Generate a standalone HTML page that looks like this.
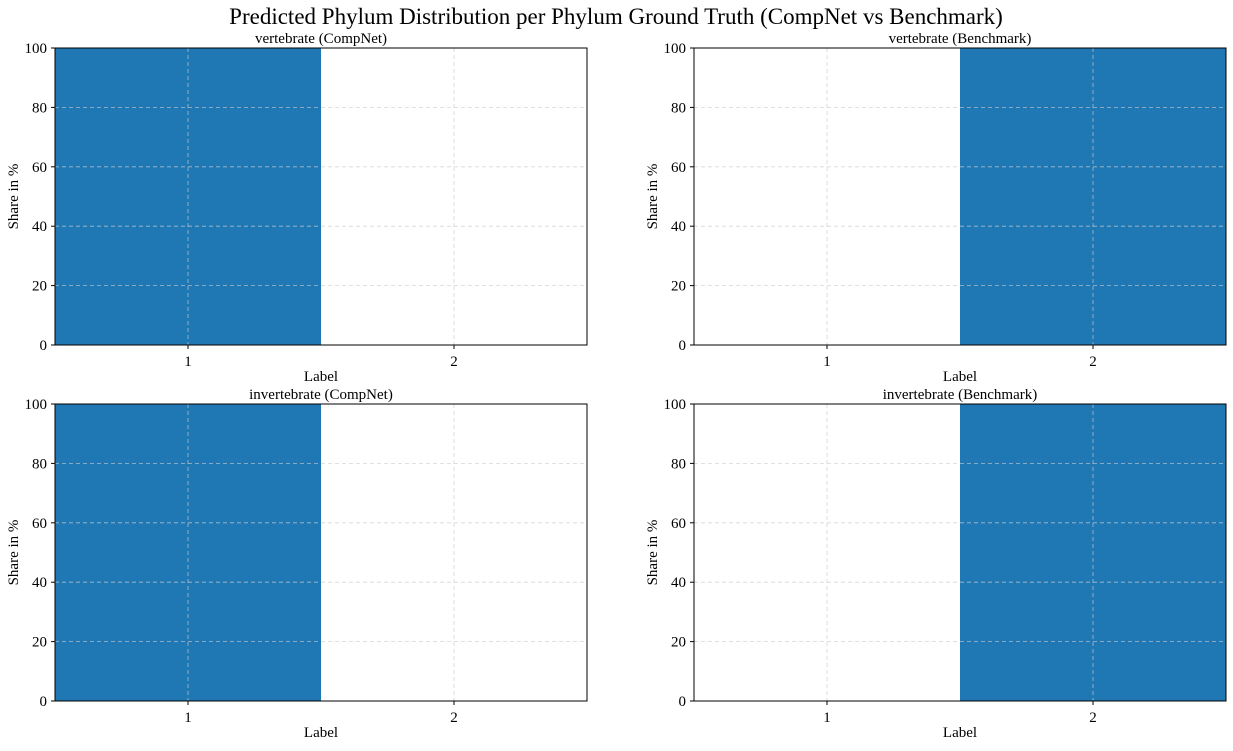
<!DOCTYPE html>
<html><head><meta charset="utf-8"><style>
body{margin:0;background:#fff;width:1233px;height:746px;overflow:hidden}
svg text{font-family:"Liberation Serif",serif;fill:#000}
</style></head><body>
<svg id="chart" width="1233" height="746">
<text x="616" y="24" text-anchor="middle" font-size="23">Predicted Phylum Distribution per Phylum Ground Truth (CompNet vs Benchmark)</text>
</svg>
<script>
const categories = ["1", "2"];
const titles = ["vertebrate (CompNet)", "vertebrate (Benchmark)", "invertebrate (CompNet)", "invertebrate (Benchmark)"];
const series = [[100, 0], [0, 100], [100, 0], [0, 100]];
const yTicks = [0, 20, 40, 60, 80, 100];
const NS = "http://www.w3.org/2000/svg";
const svg = document.getElementById("chart");
const panels = [{x:55,y:48},{x:694,y:48},{x:55,y:404},{x:694,y:404}];
const W = 532, H = 297;
function mk(tag, attrs, parent){const e=document.createElementNS(NS,tag);for(const k in attrs)e.setAttribute(k,attrs[k]);(parent||svg).appendChild(e);return e;}
panels.forEach((p, i) => {
  const g = mk("g", {});
  
  
  const xs = v => p.x + (v - 0.5) / 2 * W;
  const ys = v => p.y + H - v / 100 * H;
  series[i].forEach((v, j) => {
    const r = mk("rect", {x: xs(j+0.5), y: ys(v), width: xs(j+1.5)-xs(j+0.5), height: ys(0)-ys(v), fill: "#1f77b4"}, g);
    
    
  });
  yTicks.forEach(t => {
    const l = mk("line", {x1:p.x, x2:p.x+W, y1:ys(t), y2:ys(t), stroke:"#ccc", "stroke-opacity":0.8, "stroke-dasharray":"4,3", "stroke-width":0.8}, g);
    
    
    mk("line", {x1:p.x-4, x2:p.x, y1:ys(t), y2:ys(t), stroke:"#000"}, g);
    const tx = mk("text", {x:p.x-8, y:ys(t)+5, "text-anchor":"end", "font-size":15}, g);
    tx.textContent = t;
    
    
  });
  categories.forEach((c, j) => {
    const cx = xs(j+1);
    const l = mk("line", {x1:cx, x2:cx, y1:p.y, y2:p.y+H, stroke:"#ccc", "stroke-opacity":0.8, "stroke-dasharray":"4,3", "stroke-width":0.8}, g);
    
    
    mk("line", {x1:cx, x2:cx, y1:p.y+H, y2:p.y+H+4, stroke:"#000"}, g);
    const tx = mk("text", {x:cx, y:p.y+H+21, "text-anchor":"middle", "font-size":15}, g);
    tx.textContent = c;
    
    
  });
  const fr = mk("rect", {x:p.x, y:p.y, width:W, height:H, fill:"none", stroke:"#000", "stroke-width":1}, g);
  
  
  const ti = mk("text", {x:p.x+W/2, y:p.y-5, "text-anchor":"middle", "font-size":15}, g);
  ti.textContent = titles[i];
  
  
  const xl = mk("text", {x:p.x+W/2, y:p.y+H+36, "text-anchor":"middle", "font-size":15}, g);
  xl.textContent = "Label";
  
  
  const yl = mk("text", {x:0, y:0, "text-anchor":"middle", "font-size":15, transform:`translate(${p.x-37},${p.y+H/2}) rotate(-90)`}, g);
  yl.textContent = "Share in %";
  
  
});
</script>
</body></html>
